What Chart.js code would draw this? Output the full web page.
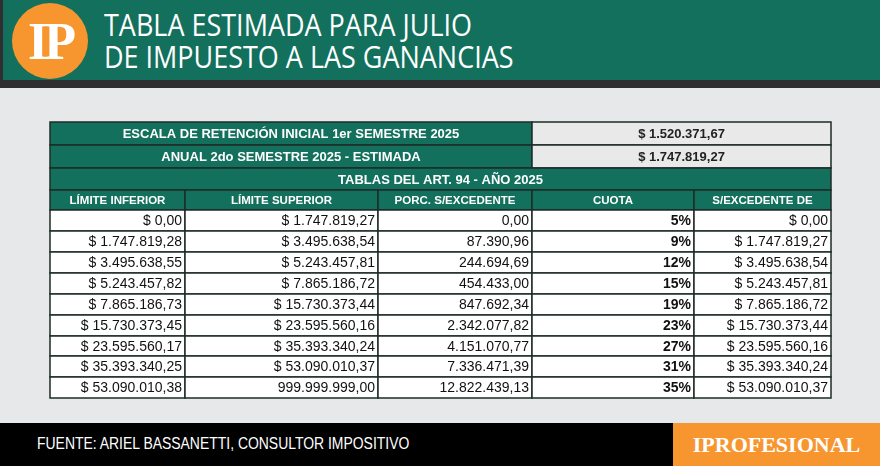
<!DOCTYPE html>
<html><head><meta charset="utf-8">
<script src="https://cdn.jsdelivr.net/npm/chart.js@4"></script>
<style>
body{margin:0;width:880px;height:466px;background:#e6e8ea;position:relative;overflow:hidden;font-family:'Liberation Sans',Arial,sans-serif}
#top{position:absolute;left:0;top:0;width:880px;height:88px;background:#2f2f31}
#green{position:absolute;left:3px;top:0;width:877px;height:80px;background:#12705d}
#logo{position:absolute;left:12px;top:3px;width:76px;height:76px;border-radius:50%;background:#f7962f;color:#fff;font:bold 52px 'Liberation Serif',serif;text-align:center;line-height:78px;letter-spacing:-4px}
#title{position:absolute;left:104px;top:8px;color:#fff;font-family:'Open Sans',sans-serif;font-size:31px;line-height:32px;transform:scaleX(0.87);transform-origin:left;white-space:nowrap}
#foot{position:absolute;left:0;top:423px;width:880px;height:43px;background:#000}
#src{position:absolute;left:37px;top:434px;color:#fff;font-size:17px;transform:scaleX(0.82);transform-origin:left;white-space:nowrap}
#brand{position:absolute;left:673px;top:423px;width:207px;height:43px;background:#f7962f;color:#fff;font:bold 22px 'Liberation Serif',serif;text-align:center;line-height:43px}
#wrap{position:absolute;left:48px;top:120px;width:785px;height:280px}
</style></head><body>
<div id="top"></div><div id="green"></div>
<div id="logo">IP</div>
<div id="title">TABLA ESTIMADA PARA JULIO<br>DE IMPUESTO A LAS GANANCIAS</div>
<div id="wrap"><canvas id="tbl"></canvas></div>
<div id="foot"></div>
<div id="src">FUENTE: ARIEL BASSANETTI, CONSULTOR IMPOSITIVO</div>
<div id="brand">IPROFESIONAL</div>
<script>
// datos de la tabla
const titulos = ['ESCALA DE RETENCIÓN INICIAL 1er SEMESTRE 2025', 'ANUAL 2do SEMESTRE 2025 - ESTIMADA'];
const montos = ['$ 1.520.371,67', '$ 1.747.819,27'];
const tituloTabla = 'TABLAS DEL ART. 94 - AÑO 2025';
const columnas = ['LÍMITE INFERIOR', 'LÍMITE SUPERIOR', 'PORC. S/EXCEDENTE', 'CUOTA', 'S/EXCEDENTE DE'];
const limInferior = ['$ 0,00','$ 1.747.819,28','$ 3.495.638,55','$ 5.243.457,82','$ 7.865.186,73','$ 15.730.373,45','$ 23.595.560,17','$ 35.393.340,25','$ 53.090.010,38'];
const limSuperior = ['$ 1.747.819,27','$ 3.495.638,54','$ 5.243.457,81','$ 7.865.186,72','$ 15.730.373,44','$ 23.595.560,16','$ 35.393.340,24','$ 53.090.010,37','999.999.999,00'];
const fijo = ['0,00','87.390,96','244.694,69','454.433,00','847.692,34','2.342.077,82','4.151.070,77','7.336.471,39','12.822.439,13'];
const cuota = ['5%','9%','12%','15%','19%','23%','27%','31%','35%'];
const excedente = ['$ 0,00','$ 1.747.819,27','$ 3.495.638,54','$ 5.243.457,81','$ 7.865.186,72','$ 15.730.373,44','$ 23.595.560,16','$ 35.393.340,24','$ 53.090.010,37'];

const colEdges = [0, 135, 328, 482, 644, 781];
const rowEdges = [0, 23, 46, 68, 88, 109, 130, 151, 172, 193, 214, 234, 255, 276];
const green = '#12705d', line = '#1e2b27';

const tablePlugin = {
  id: 'tabla',
  afterDraw(chart) {
    const c = chart.ctx, x = chart.scales.x, y = chart.scales.y;
    const X = v => x.getPixelForValue(v), Y = v => y.getPixelForValue(v);
    function cell(c0, c1, r, fill, text, align, font, color) {
      const x0 = X(colEdges[c0]), x1 = X(colEdges[c1]), y0 = Y(rowEdges[r]), y1 = Y(rowEdges[r + 1]);
      c.fillStyle = fill; c.fillRect(x0, y0, x1 - x0, y1 - y0);
      c.strokeStyle = line; c.lineWidth = 1.5; c.strokeRect(x0, y0, x1 - x0, y1 - y0);
      c.font = font; c.fillStyle = color; c.textBaseline = 'middle'; c.textAlign = align;
      const tx = align === 'right' ? x1 - 3 : (x0 + x1) / 2;
      c.fillText(text, tx, (y0 + y1) / 2 + 1);
    }
    const hb = "bold 13px 'Liberation Sans',Arial";
    const nb = "14px 'Liberation Sans',Arial";
    const bb = "bold 14px 'Liberation Sans',Arial";
    titulos.forEach((t, i) => {
      cell(0, 3, i, green, t, 'center', hb, '#fff');
      cell(3, 5, i, '#e9e9e9', montos[i], 'center', hb, '#222');
    });
    cell(0, 5, 2, green, tituloTabla, 'center', hb, '#fff');
    columnas.forEach((t, i) => cell(i, i + 1, 3, green, t, 'center', "bold 11.5px 'Liberation Sans',Arial", '#fff'));
    const cols = [limInferior, limSuperior, fijo, cuota, excedente];
    for (let r = 0; r < limInferior.length; r++) {
      cols.forEach((arr, i) => cell(i, i + 1, r + 4, '#fff', arr[r], 'right', i === 3 ? bb : nb, '#111'));
    }
  }
};

new Chart(document.getElementById('tbl'), {
  type: 'scatter',
  data: { datasets: [{ data: [] }] },
  options: {
    responsive: true, maintainAspectRatio: false, animation: false,
    layout: { padding: 2 },
    plugins: { legend: { display: false }, tooltip: { enabled: false } },
    scales: {
      x: { type: 'linear', min: 0, max: colEdges[colEdges.length - 1], display: false },
      y: { type: 'linear', min: 0, max: rowEdges[rowEdges.length - 1], reverse: true, display: false }
    }
  },
  plugins: [tablePlugin]
});
</script>
</body></html>
